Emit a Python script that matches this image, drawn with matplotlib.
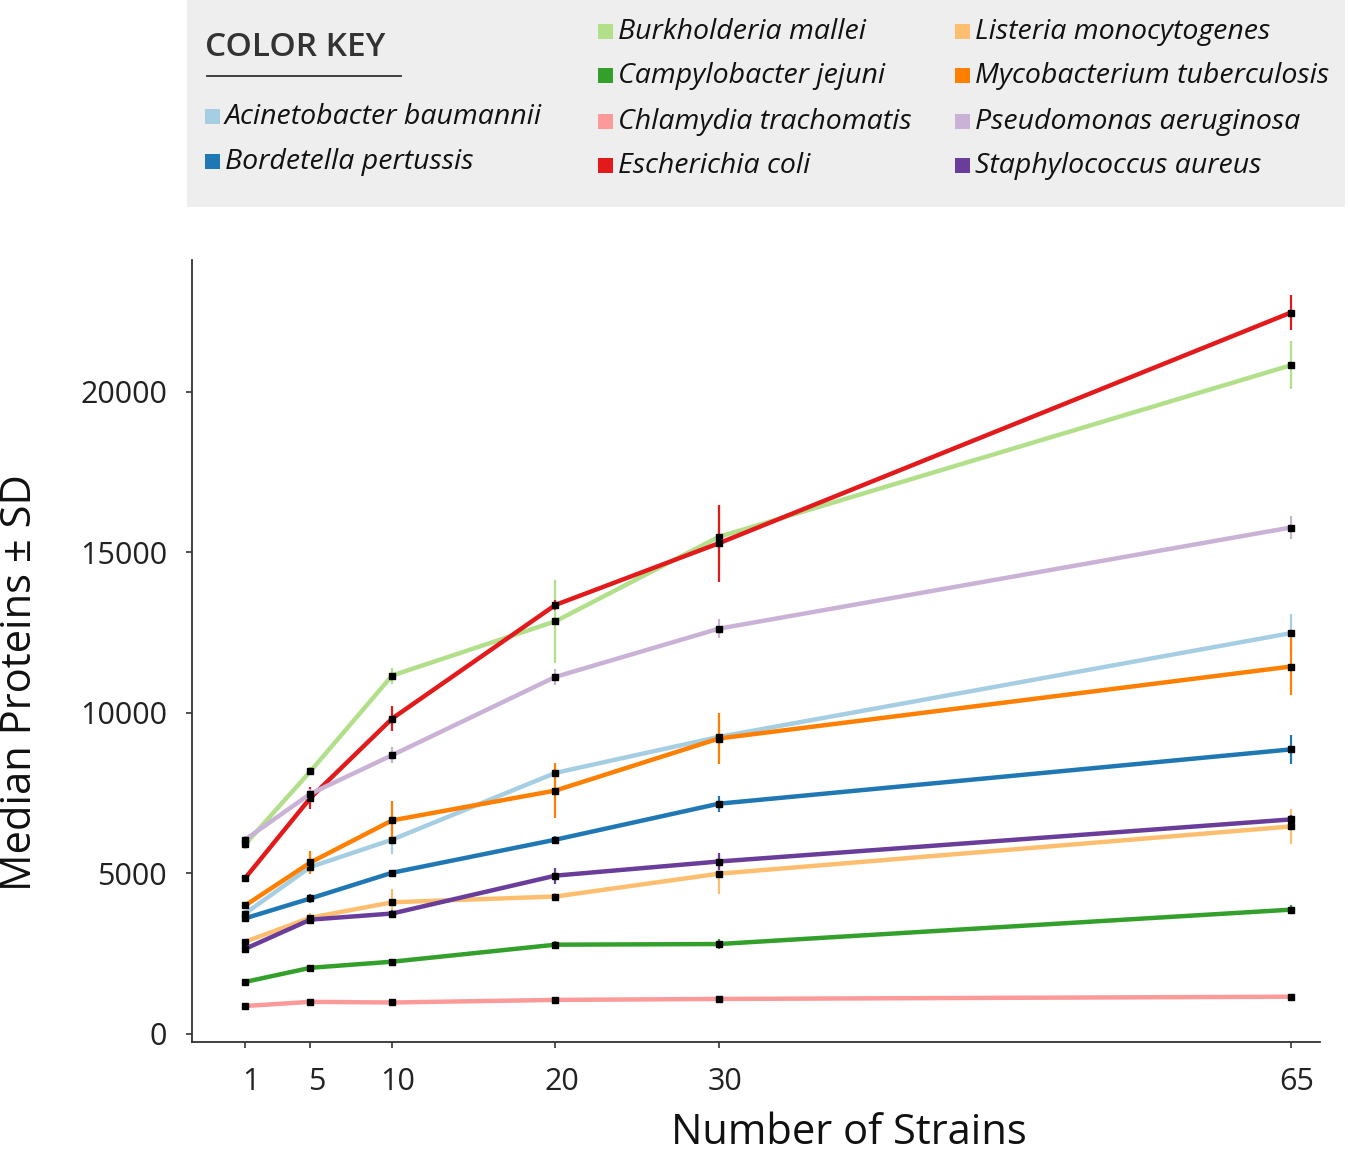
import matplotlib
matplotlib.use('Agg')
import matplotlib.pyplot as plt
import matplotlib.transforms as mtransforms
from matplotlib.patches import Rectangle

plt.rcParams['font.family'] = ['Open Sans', 'DejaVu Sans']

strains = [1, 5, 10, 20, 30, 65]

species = ['Acinetobacter baumannii', 'Bordetella pertussis', 'Burkholderia mallei',
           'Campylobacter jejuni', 'Chlamydia trachomatis', 'Escherichia coli',
           'Listeria monocytogenes', 'Mycobacterium tuberculosis',
           'Pseudomonas aeruginosa', 'Staphylococcus aureus']

colors = ['#a6cee3', '#1f78b4', '#b2df8a', '#33a02c', '#fb9a99',
          '#e31a1c', '#fdbf6f', '#ff7f00', '#cab2d6', '#6a3d9a']

# median protein counts per species (same order as species)
acinetobacter = [3750, 5200, 6050, 8130, 9250, 12480]
bordetella = [3600, 4220, 5020, 6050, 7170, 8860]
burkholderia = [5900, 8180, 11160, 12850, 15480, 20820]
campylobacter = [1620, 2060, 2250, 2780, 2800, 3870]
chlamydia = [870, 1000, 980, 1060, 1090, 1160]
ecoli = [4850, 7350, 9820, 13360, 15280, 22460]
listeria = [2870, 3620, 4100, 4280, 4990, 6460]
mycobacterium = [4000, 5340, 6650, 7580, 9200, 11440]
pseudomonas = [6050, 7480, 8680, 11120, 12620, 15770]
staph = [2650, 3560, 3750, 4930, 5370, 6680]

# standard deviations
acinetobacter_sd = [120, 200, 450, 150, 450, 600]
bordetella_sd = [100, 150, 100, 120, 250, 450]
burkholderia_sd = [150, 120, 250, 1300, 950, 750]
campylobacter_sd = [60, 80, 80, 120, 150, 150]
chlamydia_sd = [40, 40, 40, 50, 50, 50]
ecoli_sd = [80, 350, 380, 150, 1200, 550]
listeria_sd = [100, 150, 400, 120, 620, 560]
mycobacterium_sd = [80, 350, 600, 870, 780, 900]
pseudomonas_sd = [100, 150, 250, 250, 300, 350]
staph_sd = [80, 100, 120, 250, 250, 150]

values = [acinetobacter, bordetella, burkholderia, campylobacter, chlamydia,
          ecoli, listeria, mycobacterium, pseudomonas, staph]
sds = [acinetobacter_sd, bordetella_sd, burkholderia_sd, campylobacter_sd, chlamydia_sd,
       ecoli_sd, listeria_sd, mycobacterium_sd, pseudomonas_sd, staph_sd]

yticks = [0, 5000, 10000, 15000, 20000]

fig = plt.figure(figsize=(13.5, 11.52), dpi=100)
ax = fig.add_axes([0.1422, 0.0955, 0.8356, 0.6788])

for v, sd, c in zip(values, sds, colors):
    ax.errorbar(strains, v, yerr=sd, color=c, lw=3.2, elinewidth=1.6, capsize=0,
                marker='s', ms=4.5, mfc='black', mec='black')

ax.set_xlim(-2.25, 66.8)
ax.set_ylim(-250, 24100)
ax.set_xticks(strains)
ax.set_xticklabels([str(s) for s in strains], fontsize=22)
ax.set_yticks(yticks)
ax.set_yticklabels([str(t) for t in yticks], fontsize=22, color='#222222')
ax.tick_params(axis='x', length=4, width=1.2, color='#333333', pad=14, labelcolor='#222222')
ax.tick_params(axis='y', length=4, width=1.2, color='#333333', pad=14)
shift = mtransforms.ScaledTranslation(6 / 100, 0, fig.dpi_scale_trans)
for lab in ax.get_xticklabels():
    lab.set_transform(lab.get_transform() + shift)
for s in ['top', 'right']:
    ax.spines[s].set_visible(False)
for s in ['left', 'bottom']:
    ax.spines[s].set_color('#333333')
    ax.spines[s].set_linewidth(1.3)

fig.text(849 / 1350, 1 - 1133 / 1152, 'Number of Strains', fontsize=30,
         ha='center', va='center', color='#111111')
fig.text(20 / 1350, 1 - 683 / 1152, 'Median Proteins \u00b1 SD', fontsize=30,
         ha='center', va='center', rotation=90, color='#111111')

# colour key box
fig.patches.append(Rectangle((187 / 1350, 1 - 207 / 1152), 1158 / 1350, 207 / 1152,
                             transform=fig.transFigure, facecolor='#eeeeee',
                             edgecolor='none', zorder=0))
fig.text(205 / 1350, 1 - 48 / 1152, 'COLOR KEY', fontsize=24, fontweight='semibold',
         color='#333333', ha='left', va='center')
fig.add_artist(plt.Line2D([207 / 1350, 401 / 1350], [1 - 76 / 1152, 1 - 76 / 1152],
                          transform=fig.transFigure, color='#333333', lw=1.3))

slots = [(205, 117), (205, 162),
         (598, 32), (598, 76), (598, 122), (598, 166),
         (955, 32), (955, 76), (955, 122), (955, 166)]
for (sx, sy), name, c in zip(slots, species, colors):
    fig.patches.append(Rectangle((sx / 1350, 1 - (sy + 7) / 1152), 15 / 1350, 15 / 1152,
                                 transform=fig.transFigure, facecolor=c, edgecolor='none'))
    fig.text((sx + 20) / 1350, 1 - sy / 1152, name, fontsize=20.5, style='italic',
             color='#111111', ha='left', va='center')

fig.savefig('out.png', dpi=100)
